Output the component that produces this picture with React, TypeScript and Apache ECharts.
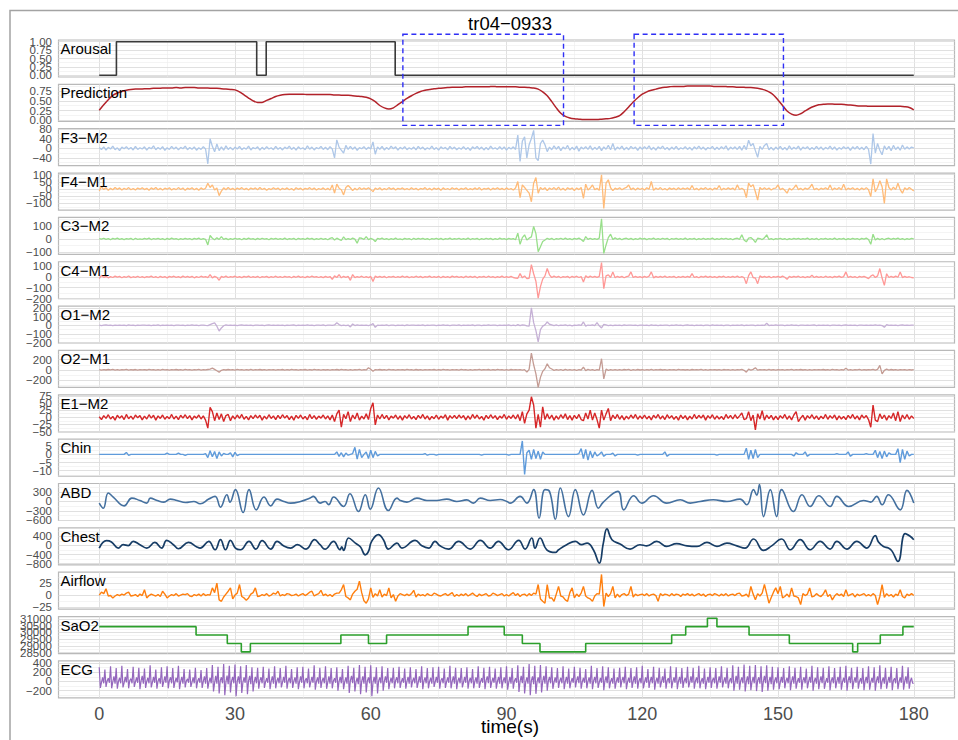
import React, { useEffect, useRef } from "react";
import * as echarts from "echarts";

// ---------- DATA ----------
const PANEL_NAMES = ["Arousal", "Prediction", "F3−M2", "F4−M1", "C3−M2", "C4−M1", "O1−M2", "O2−M1", "E1−M2", "Chin", "ABD", "Chest", "Airflow", "SaO2", "ECG"];
const X_TICKS = [0, 30, 60, 90, 120, 150, 180];
const X_MINOR = [15, 45, 75, 105, 135, 165];

const Y_MIN = [-0.05, -0.026, -73, -148, -118, -202, -203, -350, -51, -13.3, -605, -848, -29.5, 28436, -359];
const Y_MAX = [1.05, 0.922, 82, 111, 164, 141, 219, 384, 79, 9.3, 570, 765, 47.7, 31164, 448];
const Y_TICKS = [
  [0, 0.25, 0.5, 0.75, 1],
  [0, 0.25, 0.5, 0.75],
  [-40, 0, 40, 80],
  [-100, -50, 0, 50, 100],
  [-100, 0, 100],
  [-200, -100, 0, 100],
  [-200, -100, 0, 100, 200],
  [-200, 0, 200],
  [-50, -25, 0, 25, 50, 75],
  [-10, -5, 0, 5],
  [-600, -300, 0, 300],
  [-800, -400, 0, 400],
  [-25, 0, 25],
  [28500, 29000, 29500, 30000, 30500, 31000],
  [-200, 0, 200, 400],
];

const AROUSAL: [number, number][] = [[0, 0], [3.8, 1], [34.8, 0], [36.9, 1], [65.4, 0], [180, 0]];

const PREDICTION = [
  0.26, 0.40, 0.53, 0.64, 0.70, 0.74, 0.77, 0.79, 0.80, 0.80,
  0.81, 0.81, 0.82, 0.82, 0.83, 0.83, 0.83, 0.84, 0.83, 0.84,
  0.84, 0.84, 0.83, 0.83, 0.83, 0.82, 0.82, 0.81, 0.80, 0.79,
  0.78, 0.73, 0.65, 0.57, 0.50, 0.46, 0.46, 0.51, 0.56, 0.61,
  0.64, 0.66, 0.67, 0.67, 0.67, 0.67, 0.66, 0.66, 0.66, 0.66,
  0.66, 0.66, 0.65, 0.65, 0.64, 0.64, 0.63, 0.62, 0.61, 0.59,
  0.55, 0.48, 0.38, 0.32, 0.29, 0.32, 0.40, 0.48, 0.56, 0.63,
  0.69, 0.74, 0.77, 0.79, 0.81, 0.82, 0.83, 0.84, 0.85, 0.85,
  0.85, 0.86, 0.86, 0.86, 0.86, 0.86, 0.86, 0.87, 0.86, 0.86,
  0.86, 0.86, 0.86, 0.85, 0.85, 0.84, 0.83, 0.80, 0.73, 0.63,
  0.48, 0.32, 0.18, 0.10, 0.06, 0.04, 0.03, 0.02, 0.02, 0.02,
  0.02, 0.03, 0.04, 0.05, 0.08, 0.12, 0.22, 0.34, 0.47, 0.58,
  0.67, 0.73, 0.77, 0.80, 0.83, 0.85, 0.86, 0.87, 0.87, 0.87,
  0.88, 0.88, 0.88, 0.88, 0.88, 0.88, 0.87, 0.87, 0.87, 0.86,
  0.86, 0.85, 0.85, 0.84, 0.84, 0.83, 0.81, 0.78, 0.73, 0.65,
  0.52, 0.38, 0.24, 0.16, 0.13, 0.17, 0.24, 0.31, 0.36, 0.40,
  0.41, 0.42, 0.42, 0.41, 0.41, 0.40, 0.39, 0.38, 0.37, 0.37,
  0.36, 0.36, 0.36, 0.36, 0.36, 0.36, 0.36, 0.36, 0.35, 0.33,
  0.27,
];

// rows of 10 s, one value every 0.5 s
const F3M2 = [
  [3, -5, 6, -8, 4, -3, 9, -6, 2, -10, 5, -2, 7, -4, 3, -7, 8, -5, 2, -3],
  [6, -8, 4, -2, 10, -6, 3, -4, 7, -9, 2, -5, 8, -3, 5, -7, 4, -2, 9, -6],
  [3, -4, 6, -8, 2, -5, 7, -3, -65, 40, 8, -15, 18, -10, 6, -8, 10, -5, 4, -7],
  [5, -3, 8, -6, 2, -4, 9, -7, 3, -2, 6, -8, 4, -5, 7, -3, 2, -6, 8, -4],
  [3, -7, 5, -2, 9, -5, 4, -8, 6, -3, 2, -6, 10, -4, 5, -7, 3, -2, 8, -5],
  [4, -6, 7, -3, -40, 35, 5, -8, -20, 12, -5, 8, -4, 6, -9, 3, -2, 7, -5, 4],
  [-3, 27, -25, 6, -4, 8, -7, 3, -5, 9, -2, 6, -8, 4, -3, 7, -6, 2, -4, 5],
  [-7, 8, -3, 5, -6, 2, -4, 9, -5, 3, -8, 6, -2, 4, -7, 8, -3, 5, -6, 2],
  [-4, 7, -5, 3, -9, 6, -2, 8, -4, 5, -7, 3, -6, 9, -3, 2, -5, 7, -4, 6],
  [-8, 4, -3, 6, -5, 55, -55, 30, 48, -40, 15, 41, 75, -40, -52, 20, 34, 15, -14, 5],
  [-6, 10, -4, 8, -10, 5, -3, 12, -8, 4, -6, 9, -12, 5, -3, 7, -5, 10, -7, 4],
  [-5, 8, -10, 6, -4, 12, -6, 20, -8, 5, -3, 9, -7, 4, -6, 8, -2, 5, -9, 6],
  [-4, 7, -3, 10, -6, 4, -8, 6, -2, 9, -5, 3, -7, 5, -4, 8, -6, 2, -3, 7],
  [-5, 4, -8, 6, -3, 9, -4, 5, -7, 3, -2, 8, -6, 4, -5, 7, -3, 10, -8, 5],
  [-3, 6, -5, 8, -8, 12, -6, 34, 10, 20, -10, -38, 8, -5, 12, 20, -6, 4, -8, 5],
  [-4, 8, -6, 3, -7, 10, -5, 4, -3, 9, -8, 5, -2, 7, -6, 3, -5, 8, -4, 6],
  [-7, 4, -3, 9, -5, 6, -8, 3, -4, 7, -2, 5, -9, 6, -3, 8, -5, 4, -6, 8],
  [-5, -66, 62, -20, 20, -8, -27, 10, -6, 8, -10, 12, -5, 6, -8, 14, -4, 6, -3, 5],
  [2],
];

const F4M1 = [
  [-14, 16, -5, 8, -10, 4, -6, 10, -3, 7, -8, 5, -4, 9, -6, 3, -7, 6, -2, 8],
  [-5, 4, -9, 7, -3, 10, -6, 4, -8, 5, -2, 8, -7, 3, -5, 9, -4, 6, -10, 5],
  [-3, 8, -6, 4, -9, 7, -4, 5, 40, 10, 28, -8, 6, -47, -15, 8, -6, 10, -5, 4],
  [-7, 6, -3, 9, -5, 4, -8, 6, -2, 7, -6, 10, -4, 5, -9, 3, -5, 8, -3, 6],
  [-8, 5, -4, 7, -6, 3, -9, 8, -3, 5, -7, 4, -2, 9, -5, 6, -8, 3, -4, 7],
  [-6, 4, -8, 28, -30, 33, 5, -6, -42, 10, 24, 8, -12, 5, -7, 9, -4, 6, -3, 8],
  [-5, -19, 6, -4, 8, -7, 3, -5, 9, -3, 6, -8, 4, -2, 7, -5, 3, -6, 8, -4],
  [5, -7, 3, -2, 9, -6, 4, -8, 6, -3, 5, -9, 7, -4, 3, -6, 8, -2, 5, -7],
  [4, -3, 8, -6, 2, -5, 7, -4, 9, -8, 3, -2, 6, -7, 5, -3, 8, -5, 4, -6],
  [7, -4, 3, -8, 6, 52, -61, 28, 10, -10, -30, -90, 40, 80, -30, 10, -5, 8, -12, 6],
  [-4, 9, -6, 12, -8, 5, -10, 8, -3, 6, -12, 7, -5, 10, -66, 33, -8, 6, 28, -5],
  [4, -10, 99, -137, 40, 64, 8, -12, 5, -3, 8, -6, 4, 10, 28, -5, 7, -8, 6, -4],
  [5, -7, 8, -3, 52, -10, 6, -4, 9, -6, 3, -8, 7, -3, 5, -6, 8, -4, 6, -2],
  [7, -5, 24, -6, 4, -8, 6, -3, 9, -5, 4, -7, 6, -2, 24, -8, 5, -4, 7, -3],
  [6, -8, 28, -4, 5, -6, -61, 40, 15, 30, -20, -78, 10, -5, 8, -4, 6, -8, 3, 5],
  [28, -6, 4, -10, -30, 5, -8, 7, 28, -5, 4, -8, 6, -3, 9, 33, -6, 4, -7, 5],
  [-3, 8, -5, 28, -8, 6, -4, 9, -6, 33, -7, 5, -3, 8, -6, 4, -8, 6, -5, 9],
  [-6, -54, 70, -20, 10, 57, 15, -101, 70, 10, -8, 12, -5, 40, -5, -30, 8, -6, 10, -3],
  [-14],
];

const C3M2 = [
  [3, -2, 5, -4, 2, -6, 4, -1, 6, -3, 2, -5, 3, -2, 4, -6, 5, -3, 1, -4],
  [4, -2, 6, -5, 3, -1, 5, -4, 2, -6, 4, -3, 6, -2, 3, -5, 2, -4, 5, -1],
  [3, -5, 4, -2, 6, -4, 2, -3, -46, 26, 5, -6, 8, -4, 18, -3, 4, -5, 2, -3],
  [5, -2, 3, -6, 4, -3, 6, -1, 2, -5, 4, -3, 5, -2, 3, -6, 4, -1, 5, -4],
  [2, -3, 6, -5, 3, -2, 4, -6, 5, -1, 3, -4, 6, -2, 4, -5, 2, -3, 5, -4],
  [3, -6, 4, 10, -8, 6, -3, -12, 15, -5, 3, -4, 6, -2, -33, 8, 5, -4, 18, -6],
  [4, -3, -20, 5, -2, 6, -4, 3, -5, 2, -3, 6, -4, 1, -5, 4, -2, 3, -6, 5],
  [-3, 4, -1, 5, -4, 2, -6, 3, -2, 5, -3, 4, -5, 2, -1, 6, -4, 3, -2, 5],
  [-4, 2, -3, 6, -5, 3, -1, 4, -6, 2, -3, 5, -2, 4, -5, 3, -4, 6, -2, 3],
  [-5, 4, -2, 3, -6, 44, -41, 10, 31, -8, 6, 15, 95, 40, -97, -59, -20, -8, 5, -3],
  [4, -6, 3, -2, 5, -4, 6, -3, 2, -5, 4, -2, 6, -5, -20, 18, -3, 5, -4, 2],
  [-3, 6, 154, -110, -46, 10, 36, -5, 8, -3, 4, -6, 2, 5, -3, 4, -5, 2, -4, 6],
  [-2, 4, -5, 3, -1, 6, -4, 2, -3, 5, -2, 4, -6, 3, -1, 5, -4, 2, -3, 6],
  [-5, 3, -2, 4, -6, 2, -3, 5, -4, 3, -1, 6, -5, 2, -3, 4, -2, 5, -4, 3],
  [-6, 2, 5, -3, 31, -8, -22, 6, 10, -4, -26, 5, 3, -5, 8, 31, -4, 2, -5, 3],
  [-2, 5, -4, 3, -6, 2, -3, 4, -1, 5, -4, 3, -2, 6, -5, 2, -3, 4, -6, 3],
  [-1, 5, -4, 2, -3, 6, -5, 3, -2, 4, -6, 2, -4, 5, -1, 3, -5, 4, -2, 6],
  [-4, -41, 36, -8, 4, -5, 3, -6, 2, 5, -3, 4, -2, 6, -4, 3, -5, 2, -3, 4],
  [1],
];

const C4M1 = [
  [-15, 15, -4, 6, -8, 3, -5, 8, -2, 5, -7, 4, -3, 9, -6, 2, -4, 7, -5, 3],
  [-6, 4, -2, 8, -5, 3, -7, 6, -3, 4, -8, 5, -2, 7, -4, 3, -6, 8, -3, 5],
  [-4, 6, -8, 3, -5, 7, -2, 4, -6, 22, -8, 5, -4, -31, 6, -3, 8, -5, 4, -2],
  [7, -4, 3, -6, 5, -2, 8, -5, 4, -3, 6, -7, 3, -2, 5, -6, 4, -3, 7, -4],
  [3, -5, 6, -2, 4, -7, 5, -3, 8, -4, 2, -6, 5, -3, 7, -2, 4, -5, 3, -6],
  [6, -3, 4, -22, 10, -5, 22, -8, 6, -4, 5, -31, 22, -6, 4, -3, 7, -5, 3, -6],
  [5, -41, 8, -4, 6, -3, 5, -7, 4, -2, 6, -5, 3, -4, 8, -3, 5, -6, 2, -4],
  [7, -3, 5, -6, 4, -2, 8, -5, 3, -4, 6, -7, 5, -3, 4, -6, 8, -2, 5, -4],
  [3, -6, 7, -3, 5, -4, 6, -8, 4, -2, 5, -5, 7, -3, 4, -6, 3, -4, 8, -5],
  [4, -3, 6, -5, -10, -12, 31, -8, 10, -15, -12, 115, 30, -40, -197, -90, -20, 10, 78, 20],
  [-5, 8, -3, 6, -7, 4, -2, 5, -8, 6, -3, 7, -5, 4, -47, 12, -6, 8, -3, 5],
  [-4, 6, 134, -109, 10, 20, -5, 47, -8, 6, -4, 5, -7, 3, 8, 47, -5, 6, -3, 4],
  [-6, 5, -3, 7, 47, -8, 5, -4, 6, -3, 8, -5, 4, -2, 6, -7, 3, -4, 5, -3],
  [6, -4, 31, -5, 3, -7, 5, -2, 8, -4, 6, -3, 4, -6, 5, -2, 7, -5, 3, -4],
  [6, -3, 8, -5, 4, -6, -62, 12, 47, -5, -10, -62, 10, -4, 6, -3, 5, -7, 4, -2],
  [6, -4, 8, -3, -22, 5, -4, 6, -2, 7, -5, 3, -6, 4, -3, 15, -5, 6, -4, 3],
  [-5, 7, -3, 4, -6, 5, -2, 8, -4, 3, 47, -5, 6, -3, 4, -7, 5, -2, 6, -4],
  [-15, 8, 20, -5, 10, 78, -10, -78, 30, -5, 6, -4, 8, -3, 47, -6, 5, -4, 2, -5],
  [-8],
];

const O1M2 = [
  [2, -3, 1, 4, -2, 3, -4, 1, -1, 3, -2, 2, -3, 4, -1, 2, -4, 3, -2, 1],
  [3, -1, 2, -4, 1, -2, 4, -3, 2, -1, 3, -2, 1, -4, 2, 3, -1, 2, -3, 1],
  [-2, 4, -1, 2, -3, 1, 3, -2, -4, 8, 19, 27, -10, -65, -30, -5, 4, -2, 3, -1],
  [2, -3, 1, 4, -2, 3, -1, 2, -4, 1, 3, -2, 2, -3, 1, 4, -1, 2, -2, 3],
  [-1, 2, -4, 3, -2, 1, 4, -3, 2, -1, 3, -2, 4, -1, 2, -3, 1, 3, -2, 4],
  [-3, 1, 2, -2, 4, 30, 8, -3, 2, -4, 3, -19, 15, -3, 4, -2, 3, -1, 2, -3],
  [4, 19, -23, 2, -1, 3, -2, 4, -3, 1, 2, -4, 3, -1, 2, -3, 4, -2, 1, 3],
  [-2, 3, -1, 4, -3, 2, -2, 1, 3, -4, 2, -1, 4, -2, 3, -3, 1, 2, -1, 4],
  [-3, 2, -1, 3, -2, 4, -4, 1, 2, -3, 3, -1, 4, -2, 1, 3, -4, 2, -1, 3],
  [-2, 4, -3, 1, -5, 8, -4, 6, 3, -6, -10, 198, 30, -60, -190, -50, -10, 5, 38, 12],
  [6, -3, 4, -5, 3, -2, 5, -4, 2, -6, 3, -2, 4, -1, 38, -10, 3, -2, 6, -4],
  [30, -6, -30, 10, 4, -3, 2, -4, 3, -1, 2, -3, 4, -2, 1, 3, -2, 2, -4, 1],
  [3, -2, 1, -3, 4, -1, 2, -4, 3, -2, 1, 3, -3, 2, -1, 4, -2, 1, -3, 2],
  [4, -1, 2, -3, 1, -2, 3, -4, 2, 1, -3, 4, -1, 2, -2, 3, -4, 1, 2, -3],
  [1, -2, 3, -1, 4, -3, 2, -2, 1, 3, -4, 2, -1, 3, -2, 23, -3, 2, -1, 4],
  [-2, 1, 3, -3, 2, -1, 4, -2, 1, -4, 3, 2, -1, 3, -2, 1, 4, -3, 2, -1],
  [3, -2, 1, -4, 2, 3, -1, 2, -3, 1, 4, -2, 3, -1, 2, -4, 1, 3, -2, 2],
  [-1, 3, -2, 4, -1, 2, -3, -23, 8, -2, 3, -1, 2, -3, 1, 4, -2, 3, -1, 2],
  [1],
];

const O2M1 = [
  [5, -8, 3, -4, 6, -2, 8, -5, 3, -6, 4, -3, 7, -5, 2, -4, 6, -7, 3, -2],
  [5, -4, 8, -3, 2, -6, 4, -5, 7, -2, 3, -8, 5, -3, 6, -4, 2, -5, 8, -3],
  [4, -6, 3, -2, 7, -5, 4, -3, 6, 15, 33, 8, -20, -47, -10, 5, -4, 6, -3, 2],
  [-5, 7, -3, 4, -6, 2, -4, 8, -5, 3, -2, 6, -4, 5, -7, 3, -2, 4, -6, 5],
  [-3, 6, -5, 2, -4, 7, -3, 5, -8, 4, -2, 6, -5, 3, -4, 8, -3, 2, -6, 5],
  [-4, 3, -7, 5, -2, 6, -4, 8, -3, 2, -5, 4, -6, 3, -2, 7, -5, 4, -3, 40],
  [10, -27, 5, -3, 6, -4, 2, -5, 7, -3, 4, -6, 3, -2, 5, -4, 8, -3, 2, -5],
  [6, -4, 3, -7, 5, -2, 4, -3, 6, -5, 2, -4, 7, -3, 5, -6, 3, -2, 4, -5],
  [7, -3, 2, -5, 4, -6, 3, -2, 8, -4, 5, -3, 6, -5, 2, -4, 7, -3, 4, -6],
  [3, -5, 6, -2, 4, -3, 5, -6, 3, -47, 10, 333, 100, -80, -347, -150, -30, 20, 120, 40],
  [15, -10, 5, -8, 6, -12, 8, -5, 4, -6, 3, -10, 5, -4, 53, -15, 8, -6, 4, -10],
  [5, -8, 220, -180, 15, -10, 5, -6, 3, -8, 4, -5, 6, -3, 8, -10, 3, -5, 6, -4],
  [5, -6, 3, -4, 7, -5, 2, -3, 6, -4, 5, -7, 3, -2, 4, -6, 8, -3, 5, -4],
  [3, -5, 6, -3, 4, -2, 7, -5, 3, -6, 4, -3, 5, -4, 2, -7, 6, -3, 4, -5],
  [2, -6, 5, -3, 8, -10, -47, 12, -5, 8, 40, -6, 5, -3, 4, -5, 7, -4, 3, -6],
  [5, -3, 4, -6, 3, -2, 7, -5, 4, -3, 6, -4, 2, -5, 3, -7, 5, -2, 4, -3],
  [6, -4, 3, -5, 8, -3, 4, -6, 2, -4, 30, -5, 3, -6, 4, -2, 7, -5, 3, -4],
  [5, -3, 8, -6, 10, 87, -80, -10, 12, -5, 6, -4, 3, -7, 5, -3, 4, -6, 2, -4],
  [3],
];

const E1M2 = [
  [2, -8, 6, -4, 9, -6, 3, -10, 7, -3, 5, -8, 10, -5, 4, -7, 8, -2, 6, -9],
  [4, -6, 9, -3, 7, -10, 5, -4, 8, -7, 3, -5, 10, -6, 4, -8, 7, -3, 9, -5],
  [6, -9, 4, -3, 8, -6, 5, -10, -38, 35, 20, -12, 15, -8, 12, -15, 6, 10, -12, 5],
  [-6, 8, -4, 10, -7, 3, -9, 6, -5, 8, -3, 7, -10, 4, -6, 9, -4, 5, -8, 7],
  [-5, 9, -3, 6, -8, 4, -10, 7, -4, 8, -6, 3, -9, 10, -5, 6, -7, 4, -3, 8],
  [-6, 5, -9, 8, -15, 12, 25, -35, 10, -5, 20, -15, 8, -6, 15, -10, 4, -6, 12, -8],
  [31, 51, -27, 8, -6, 10, -5, 7, -9, 4, -3, 8, -7, 5, -10, 6, -4, 9, -6, 3],
  [-8, 7, -4, 10, -6, 5, -9, 3, -5, 8, -7, 4, -3, 9, -10, 6, -4, 7, -5, 8],
  [-3, 6, -9, 5, -7, 10, -4, 8, -6, 3, -10, 7, -5, 9, -4, 6, -8, 4, -3, 10],
  [-7, 5, -4, 8, -6, 10, -12, 20, -21, 12, 25, 72, 43, -38, 10, -35, 37, -8, 12, -6],
  [8, -10, 5, -7, 9, -4, 12, -8, 6, -10, 7, -5, 10, -8, -12, 15, -6, 25, -10, 15],
  [-8, -38, 25, -10, 12, 31, -12, 8, -5, 10, -7, 6, -9, 4, -6, 8, -4, 10, -7, 5],
  [-5, 8, -6, 4, -9, 7, -3, 10, -6, 5, -8, 9, -4, 6, -7, 3, -10, 8, -5, 6],
  [-9, 4, -6, 10, -5, 7, -3, 8, -10, 6, -4, 9, -7, 5, -6, 3, -8, 10, -4, 7],
  [-6, 9, -4, 5, 15, -8, -5, 20, -12, 8, -44, 12, -6, 23, -10, 8, -5, 7, -9, 4],
  [-8, 6, -4, 10, -7, 5, -9, 8, 20, -15, -3, 7, -10, 6, -4, 9, -6, 5, -8, 4],
  [-5, 10, -7, 6, -4, 8, -9, 5, -6, 3, -8, 7, -4, 10, -6, 5, -9, 8, -3, 6],
  [-8, -35, 43, -10, -15, 12, -5, 8, -10, 6, -4, 15, -12, 20, -15, 8, -6, 10, -7, 5],
  [-4],
];

const CHIN = [
  [0, 0, 0, 0, 0, 0, 0, 0, 0, 0, 0, 0, 1.2, -0.6, 0, 0, 0, 0, 0, 0],
  [0, 0, 0, 0, 0, 0, 0, 0, 0, 0, 0.8, 0, 0, 0, 0, 0.8, 0, 0, -0.6, 0],
  [0, 0, 0, 0, 0, 0, 0, 0.5, -2, 2.2, -1.5, 1.8, -2.5, 1.5, -1, 0.6, 0, 0, 1, -1.5],
  [1.2, -0.8, 0, 0, 0, 0, 0, 0, 0, 0, 0, 0, 0, 0, 0, 0, 0, 0, 0, 0],
  [0, 0, 0, 0, 0, 0, 0, 0, 0, 0, 0, 0, 0, 0, 0, 0, 0, 0, 0, 0],
  [0, 0, 0, 0, 0, 1.5, -1.2, 1, -1.5, 0.8, -0.5, 0, 0.5, 4.3, -2.9, 3, -2, 0, 1.5, -2.5],
  [2.5, -2, 1.8, -1, 0, 0, 0, 0, 0, 0, 0, 0, 0, 0, 0, 0, 0, 0, 0, 0],
  [0, 0, 0, 0, 0.5, -0.5, 0, 0, 0, -0.5, 0, 0, 0, 0, 0, 0, 0, 0, 0, 0],
  [0, 0, 0, 0, 0, 0, 0, 0, 0, -0.5, 0, 0, 0, 0, 0, 0, 0, 0, 0, 0],
  [0, -0.5, 0, 0, 0, 0, 0, 8.2, -12.3, 1, 2.5, -3, 3, -2.5, 2, -3, 1.5, 0, 0, 0],
  [0, 0, 0, 0, 0, 0, 0, 0, 0, 0, 0, 0, 0.5, 3.5, -2.5, 3, -3.5, 2, -2, 1.5],
  [-1, 0, 1.5, -1.2, 0, 0, 0, 0.8, -1, 0, 0, 0, 0, 0, 0, 0, 0, 0, -0.5, 0],
  [0, 0, 0, 0, 0, 0, 0, 0, 0, 0, 1.5, -1.2, 0, 0, 0, 0, 0, 0, 0, 0],
  [0, 0, 0, 0, 0, 0, 0, 0, 0, 0, 0, 0, 0, -0.5, 0, 0, 0, 0, 0, 0],
  [0, 0, 0, 0, 0, 0, 3.8, -3, 2.5, -2.5, 3, -2, 0, 0, 0, 0, 0, 0, 0, 0],
  [0, 0, 0, 0, 0, 0, 0, -1, 1, 0, 0, 0, 1.5, -1.2, 0, 0, 0, 0, 0, 0],
  [0, 0, 0, 0, 0, 0, 0.5, 0, 0, 0, 0, 1.5, -1.2, 0, 0, 0, 0, 0, 0, 0.5],
  [0, 0, 0, 2.5, -2, 1.8, -2.5, 2, -1.5, 1, 0, 0, 0, 3.5, -5, 3, -3, 2, -1, 0],
  [0],
];

// breathing traces: [time, value] at peaks and troughs
const ABD: [number, number][] = [
  [0, -53], [0.9, -214], [2, 267], [3.1, 139], [5.5, -139], [7.2, 107], [9, 30], [10.5, -53], [11.3, 107], [12.8, 30],
  [14.3, -20], [15.7, 75], [17.2, 30], [19.1, -32], [20.9, 0], [22.3, -75], [24.2, 75], [25.6, 160], [26.8, -182], [28.2, 214],
  [28.9, -20], [30.1, 374], [31.8, -353], [33.1, 374], [34.7, -267], [36.4, 139], [37.9, -139], [39.3, 75], [40.8, 0], [42.3, -53],
  [44.5, 0], [46.6, 107], [47.3, 160], [48.8, -53], [49.9, 0], [50.7, -100], [51.8, 139], [54, -160], [55.4, 246], [57.3, -321],
  [58.8, 214], [59.9, -246], [61.7, 428], [63.9, -289], [65.8, 107], [66.5, 30], [68, -20], [70.2, 107], [72.4, 30], [74.6, 30],
  [76.8, 75], [79, 0], [81.2, 50], [82.7, -53], [84.2, 107], [86.4, 30], [88.6, 60], [90.1, 0], [90.8, -53], [93, 160],
  [94.5, -53], [96, 374], [97.2, -535], [98.5, 374], [99.5, 321], [100.8, -567], [101.9, 428], [103.7, -482], [105.2, 374], [107, -428],
  [108.9, 353], [110.3, -214], [111.4, -20], [114.6, 321], [115.9, -267], [118.1, 182], [119.9, -53], [122.5, 182], [125.4, -53], [128.4, 53],
  [130.6, -53], [132.8, 0], [135.7, 53], [138.7, 0], [141.6, 75], [143.1, -107], [144.6, 374], [145.3, 200], [145.9, 535], [146.8, -482],
  [148.3, 374], [149.7, -482], [150.8, 374], [153.4, -321], [155.3, 214], [157.1, -160], [159, 182], [161.5, -160], [163, 160], [165.6, -160],
  [168.9, 30], [170.5, -20], [171.8, 160], [173, -107], [174.4, 214], [177, -267], [178.5, 353], [180, -53],
];

const CHEST: [number, number][] = [
  [0, -117], [1.6, 205], [2.7, 150], [4.2, -117], [5.3, 30], [6.4, -10], [7.5, 176], [9, 30], [10.5, -117], [12.3, 132],
  [13.8, -117], [14.9, 220], [16.4, 30], [17.5, -146], [19.7, 132], [21.6, -70], [22.3, -117], [24.2, 176], [25.6, -190], [26.8, 249],
  [27.9, -190], [29, 220], [30.1, -117], [31.2, -190], [33.1, 176], [34.6, -161], [36, 205], [37.9, -161], [39.3, 176], [40.8, -30],
  [42.3, -117], [43.8, 30], [45.7, -161], [47.6, 249], [48.8, 30], [49.9, -161], [51.8, 176], [53.2, -190], [53.6, -60], [54, -220],
  [55.1, 322], [56.6, 100], [57.7, -60], [58.8, -410], [59.5, -264], [60.2, 176], [61.7, 469], [62.8, 250], [63.9, -161], [65.8, 103],
  [66.9, -117], [69.8, 220], [71.3, -20], [72.8, -117], [74.2, 176], [75.3, -20], [77.2, -161], [79.4, 176], [82, -161], [84.2, 220],
  [86.4, -117], [88.2, 176], [90.4, -190], [92.7, 220], [94.1, -161], [95.6, 322], [96.3, -117], [97.4, 322], [98.9, -190], [100.8, -308],
  [101.5, -190], [103.3, 30], [105.2, 176], [106.6, 30], [107.8, 100], [109.2, -190], [110.5, -776], [111.4, 100], [112.2, 718], [113.3, 249],
  [115.1, 60], [117.3, -161], [119.5, 29], [121, -20], [123.2, 176], [125.4, -40], [127.6, 73], [129.9, -20], [132.1, -44], [134.3, 132],
  [136.5, -40], [138.7, 103], [140.9, -20], [142.7, -117], [144.6, 278], [146.8, -220], [148.6, -20], [150.8, 278], [152.7, -190], [154.9, 249],
  [157.1, -190], [159.3, 176], [161.5, -161], [163, 176], [165.2, -161], [167.4, 176], [169.6, -117], [171.5, 425], [172.2, 150], [173.3, -44],
  [174.4, -117], [175.2, -250], [176.5, -703], [178.1, 513], [179.2, 396], [180, 249],
];

const AIRFLOW = [
  [0, 6, 3, 13, -2, -1, -6, -2, 1, -1, 2, 0, 4, 6, -2, -1, 1, -3, 2, -1],
  [11, -6, -1, 2, 0, -2, 1, -3, 8, 2, -6, -2, 1, -1, 3, -2, 0, 2, 1, 3],
  [-2, -3, 1, -1, 2, -2, 3, -1, 1, 0, 15, 5, 25, -10, -13, -4, 2, 8, 15, -8],
  [0, 4, 22, -3, -6, -11, -6, 2, 5, 15, -3, -2, 1, -1, 3, -2, 0, 4, 2, 8],
  [-2, 1, -1, 3, 2, -1, 0, 2, -2, 1, 3, -1, 2, 6, 8, -2, 1, 3, 10, -1],
  [2, -2, 1, -3, 2, 4, 4, 11, 22, -3, -6, -10, 2, 8, 12, 29, 5, -12, -17, -8],
  [15, -5, 3, -2, 11, -4, 2, -1, 15, -6, 1, -13, -2, 3, 1, -1, 2, -1, 3, 10],
  [-4, 2, -1, 1, -2, 3, 0, -1, 4, 2, -1, -2, 1, 3, -1, 2, 5, -3, 1, -2],
  [2, -1, 3, -2, 1, 4, 0, -3, 2, -1, 1, 3, -2, -1, 4, 2, -1, 1, 3, -2],
  [1, -2, 2, 5, -1, 3, -3, 1, 2, -2, 3, -1, 4, 2, 22, -8, -13, -17, 22, -6],
  [-6, -13, 2, 18, -2, -4, -10, -13, 5, 15, -6, 2, -3, 4, 18, -2, -6, -8, -13, -2],
  [3, 2, 43, -24, 4, -3, 3, 18, -6, 2, -4, 1, 3, -1, 2, 18, -4, 2, -1, 1],
  [2, -1, 3, -2, 1, 2, -1, -13, 3, -1, 2, 1, -2, 3, -1, 2, 1, -3, 2, 0],
  [3, -1, 2, -2, 1, 3, -1, 2, -3, 1, 2, -1, 3, 1, -2, 2, -1, 3, -2, 1],
  [2, -1, 3, 4, -2, -1, 2, -4, 18, 2, -10, 3, -2, 4, 22, 3, -17, -5, 6, 15],
  [3, 18, -6, -3, 2, -4, 15, -2, -3, -6, -20, 3, -1, 2, 15, -4, -2, 3, -1, -3],
  [2, 11, -3, 1, -10, -2, 3, -1, 2, -3, 11, -2, 1, 3, -4, 2, -1, 1, 3, -2],
  [1, -2, 3, -1, -20, -3, 22, -5, 3, -2, 1, -4, 2, -1, 11, -3, -6, 2, -1, 3],
  [-1],
];

const SAO2: [number, number][] = [
  [0, 30420], [21.4, 29800], [28.3, 29180], [31.4, 28560], [33.4, 29180], [53.4, 29800], [59.5, 29180], [63.5, 29800],
  [81.5, 30420], [89.5, 29800], [93.5, 29180], [97.4, 28560], [107.5, 29180], [126.5, 29800], [129.6, 30420], [134.4, 31040],
  [136.5, 30420], [143.6, 29800], [152.5, 29180], [166.5, 28560], [167.6, 29180], [172.6, 29800], [177.6, 30420], [180, 30420],
];

// rows of 5 s, one value every 0.25 s
const ECG = [
  [310, -140, -20, 90, -40, 260, -120, 10, 70, -30, 330, -150, -10, 110, -50, 290, -160, 0, 80, -40],
  [340, -130, -30, 100, -20, 270, -150, 20, 60, -40, 320, -120, -10, 90, -30, 300, -170, 10, 120, -50],
  [280, -140, 0, 80, -40, 350, -130, -20, 100, -30, 260, -160, 10, 70, -50, 310, -120, -10, 110, -30],
  [330, -150, 20, 90, -40, 290, -140, -10, 80, -20, 340, -170, 0, 100, -50, 270, -130, 10, 60, -30],
  [260, -120, -20, 90, -40, 300, -150, 10, 70, -30, 250, -140, 0, 110, -50, 290, -160, -10, 80, -40],
  [360, -220, -30, 120, -50, 320, -260, 20, 90, -40, 380, -300, -10, 130, -60, 340, -240, 10, 100, -40],
  [370, -320, 0, 110, -50, 330, -250, -20, 90, -30, 360, -280, 10, 120, -60, 310, -220, -10, 100, -40],
  [300, -160, 20, 90, -40, 320, -140, -10, 70, -30, 280, -170, 0, 110, -50, 330, -150, 10, 80, -40],
  [290, -130, -20, 100, -30, 340, -160, 10, 80, -40, 270, -140, 0, 90, -50, 310, -170, -10, 110, -30],
  [320, -150, 20, 70, -40, 280, -130, -10, 100, -30, 350, -180, 0, 90, -50, 300, -140, 10, 80, -40],
  [330, -160, -20, 110, -50, 290, -150, 10, 70, -30, 310, -200, 0, 100, -40, 270, -170, -10, 90, -50],
  [340, -250, 20, 120, -40, 300, -220, -10, 80, -60, 360, -280, 0, 110, -50, 320, -240, 10, 90, -40],
  [350, -320, -20, 100, -50, 310, -260, 10, 90, -40, 330, -200, 0, 110, -30, 290, -170, -10, 80, -40],
  [300, -150, 20, 90, -40, 320, -140, -10, 70, -30, 280, -160, 0, 100, -50, 310, -130, 10, 80, -40],
  [270, -140, -20, 110, -30, 330, -170, 10, 90, -40, 290, -150, 0, 80, -50, 310, -120, -10, 100, -30],
  [320, -160, 20, 70, -40, 280, -140, -10, 90, -30, 340, -150, 0, 110, -50, 300, -170, 10, 80, -40],
  [290, -130, -20, 100, -30, 310, -160, 10, 80, -40, 270, -150, 0, 90, -50, 330, -140, -10, 70, -30],
  [300, -170, 20, 110, -40, 320, -140, -10, 80, -30, 280, -160, 0, 100, -50, 310, -150, 10, 90, -40],
  [330, -180, -20, 100, -50, 290, -160, 10, 70, -30, 350, -230, 0, 120, -40, 320, -260, -10, 90, -50],
  [380, -300, 20, 110, -60, 340, -270, -10, 90, -40, 360, -240, 0, 120, -50, 330, -200, 10, 100, -40],
  [310, -160, -20, 90, -30, 290, -140, 10, 80, -40, 330, -170, 0, 100, -50, 280, -150, -10, 70, -30],
  [320, -130, 20, 110, -40, 300, -160, -10, 80, -30, 270, -150, 0, 90, -50, 340, -170, 10, 100, -40],
  [290, -140, -20, 80, -30, 330, -190, 10, 110, -40, 310, -150, 0, 70, -50, 280, -160, -10, 90, -30],
  [300, -130, 20, 100, -40, 320, -170, -10, 80, -30, 290, -140, 0, 110, -50, 310, -160, 10, 70, -40],
  [340, -150, -20, 90, -30, 270, -140, 10, 100, -40, 320, -180, 0, 80, -50, 300, -130, -10, 110, -30],
  [280, -160, 20, 70, -40, 330, -150, -10, 90, -30, 310, -170, 0, 100, -50, 290, -140, 10, 80, -40],
  [320, -130, -20, 110, -30, 300, -160, 10, 90, -40, 340, -150, 0, 70, -50, 280, -170, -10, 100, -30],
  [310, -140, 20, 80, -40, 290, -160, -10, 110, -30, 330, -130, 0, 90, -50, 300, -150, 10, 70, -40],
  [350, -200, -20, 120, -50, 320, -180, 10, 90, -40, 370, -220, 0, 110, -60, 340, -190, -10, 100, -40],
  [360, -210, 20, 90, -50, 330, -230, -10, 120, -40, 350, -200, 0, 100, -60, 320, -180, 10, 90, -40],
  [310, -170, -20, 100, -30, 290, -150, 10, 80, -40, 330, -190, 0, 110, -50, 300, -160, -10, 70, -30],
  [320, -180, 20, 90, -40, 280, -150, -10, 100, -30, 340, -200, 0, 80, -50, 310, -170, 10, 110, -40],
  [300, -160, -20, 70, -30, 330, -190, 10, 90, -40, 290, -150, 0, 100, -50, 320, -180, -10, 80, -30],
  [340, -200, 20, 110, -40, 300, -170, -10, 90, -30, 320, -160, 0, 70, -50, 290, -190, 10, 100, -40],
  [330, -180, -20, 80, -30, 310, -200, 10, 110, -40, 350, -170, 0, 90, -50, 300, -160, -10, 100, -30],
  [320, -190, 20, 70, -40, 290, -170, -10, 90, -30, 340, -180, 0, 110, -50, 310, -160, 10, 80, -40],
  [-40],
];

const BOXES: [number, number][] = [[67.1, 102.6], [118.2, 151.2]];
const BOX_TOP_AROUSAL = 1.22; // in Arousal units
const BOX_BOTTOM_PRED = -0.13; // in Prediction units

// ---------- STYLE / LAYOUT ----------
const COLORS = ["#3a3a3a", "#b2222a", "#aec7e8", "#ffbb78", "#98df8a", "#ff9896", "#c5b0d5", "#c49c94", "#d62728", "#5f9bdb", "#44709f", "#173d66", "#ff7f0e", "#2ca02c", "#9467bd"];
const WIDTHS = [1.6, 1.5, 1.3, 1.3, 1.3, 1.3, 1.3, 1.3, 1.4, 1.4, 1.6, 1.7, 1.4, 1.6, 1.2];
const FONT = '"Liberation Sans", Arial, Helvetica, sans-serif';
const PANEL_LEFT = 58.5;
const PANEL_WIDTH = 896;
const PANEL_TOP0 = 40;
const PANEL_STEP = 44.35;
const PANEL_H = 37;

const fromRows = (rows: number[][], span: number, step: number) =>
  rows.flatMap((r, k) => r.map((v, j) => [k * span + j * step, v]));

function seriesData(i: number): number[][] {
  switch (i) {
    case 0: return AROUSAL;
    case 1: return PREDICTION.map((v, k) => [k, v]);
    case 2: return fromRows(F3M2, 10, 0.5);
    case 3: return fromRows(F4M1, 10, 0.5);
    case 4: return fromRows(C3M2, 10, 0.5);
    case 5: return fromRows(C4M1, 10, 0.5);
    case 6: return fromRows(O1M2, 10, 0.5);
    case 7: return fromRows(O2M1, 10, 0.5);
    case 8: return fromRows(E1M2, 10, 0.5);
    case 9: return fromRows(CHIN, 10, 0.5);
    case 10: return ABD;
    case 11: return CHEST;
    case 12: return fromRows(AIRFLOW, 10, 0.5);
    case 13: return SAO2;
    default: return fromRows(ECG, 5, 0.25);
  }
}

function minorOf(ticks: number[], min: number, max: number) {
  const s = ticks[1] - ticks[0];
  const out: number[] = [];
  for (let v = ticks[0] - s / 2; v <= max + 1e-9; v += s) if (v >= min) out.push(v);
  return out;
}

const fmt = (i: number, v: number) => {
  if (i <= 1) return v.toFixed(2);
  const r = Math.round(v);
  return r < 0 ? "−" + Math.abs(r) : String(r);
};

function buildOption() {
  const n = PANEL_NAMES.length;
  const major = { color: "#dcdcdc", width: 0.9, type: "solid" };
  const minor = { color: "#ededed", width: 0.6, type: "solid" };
  const grids = PANEL_NAMES.map((_, i) => ({
    left: PANEL_LEFT, width: PANEL_WIDTH, top: PANEL_TOP0 + i * PANEL_STEP, height: PANEL_H,
    show: true, backgroundColor: "#ffffff", borderColor: "#b9b9b9", borderWidth: 1.2,
    containLabel: false, outerBoundsMode: "none",
  }));
  const xAxes = PANEL_NAMES.map((_, i) => ({
    type: "value", gridIndex: i, min: -9, max: 189,
    axisLine: { show: false }, axisTick: { show: false }, splitLine: { show: false },
    axisLabel: i === n - 1
      ? { show: true, customValues: X_TICKS, fontSize: 18, color: "#4d4d4d", margin: 7, fontFamily: FONT, hideOverlap: false }
      : { show: false },
  }));
  const yAxes = PANEL_NAMES.map((_, i) => ({
    type: "value", gridIndex: i, min: Y_MIN[i], max: Y_MAX[i],
    axisLine: { show: false }, axisTick: { show: false }, splitLine: { show: false },
    axisLabel: { show: false },
  }));
  const series: any[] = [];
  PANEL_NAMES.forEach((_, i) => {
    const lines = [
      ...X_TICKS.map((v) => ({ xAxis: v, lineStyle: major })),
      ...X_MINOR.map((v) => ({ xAxis: v, lineStyle: minor })),
      ...Y_TICKS[i].map((v) => ({ yAxis: v, lineStyle: major })),
      ...minorOf(Y_TICKS[i], Y_MIN[i], Y_MAX[i]).map((v) => ({ yAxis: v, lineStyle: minor })),
    ];
    series.push({
      type: "line", xAxisIndex: i, yAxisIndex: i, data: [[0, Y_MIN[i]]], silent: true, z: 1,
      showSymbol: false, symbol: "none", lineStyle: { opacity: 0 },
      markLine: { silent: true, z: 1, symbol: ["none", "none"], label: { show: false }, animation: false, data: lines },
    });
    series.push({
      type: "line", name: PANEL_NAMES[i], xAxisIndex: i, yAxisIndex: i, data: seriesData(i), silent: true, z: 10,
      showSymbol: false, symbol: "none", animation: false,
      step: i === 0 || i === 13 ? "end" : false,
      smooth: i === 10 || i === 11 ? 0.45 : i === 1 ? 0.3 : false,
      lineStyle: { color: COLORS[i], width: WIDTHS[i] },
    });
  });
  return { animation: false, backgroundColor: "#ffffff", textStyle: { fontFamily: FONT }, grid: grids, xAxis: xAxes, yAxis: yAxes, series };
}

function buildGraphic(chart: echarts.ECharts) {
  const els: any[] = [];
  els.push({ type: "rect", z: 100, silent: true, shape: { x: 10, y: 10.5, width: 980, height: 760 }, style: { fill: "none", stroke: "#a3a3a3", lineWidth: 1.5 } });
  PANEL_NAMES.forEach((name, i) => {
    els.push({
      type: "text", z: 100, silent: true, x: 60.5, y: PANEL_TOP0 + i * PANEL_STEP + 1,
      style: { text: name, fill: "#000", fontSize: 15, fontFamily: FONT, align: "left", verticalAlign: "top", textAlign: "left", textVerticalAlign: "top" },
    });
    // y tick labels, placed through the panel's own scale
    Y_TICKS[i].forEach((v) => {
      const p = chart.convertToPixel({ gridIndex: i } as any, [0, v]) as number[];
      if (!p) return;
      els.push({
        type: "text", z: 100, silent: true, x: PANEL_LEFT - 6.5, y: p[1],
        style: { text: fmt(i, v), fill: "#4d4d4d", fontSize: 11.5, fontFamily: FONT, align: "right", verticalAlign: "middle", textAlign: "right", textVerticalAlign: "middle" },
      });
    });
  });
  els.push({ type: "text", z: 100, silent: true, x: 510, y: 14, style: { text: "tr04−0933", fill: "#000", fontSize: 18.5, fontFamily: FONT, align: "center", verticalAlign: "top", textAlign: "center", textVerticalAlign: "top" } });
  els.push({ type: "text", z: 100, silent: true, x: 510, y: 717, style: { text: "time(s)", fill: "#000", fontSize: 19, fontFamily: FONT, align: "center", verticalAlign: "top", textAlign: "center", textVerticalAlign: "top" } });
  BOXES.forEach((b) => {
    const p1 = chart.convertToPixel({ gridIndex: 0 } as any, [b[0], BOX_TOP_AROUSAL]) as number[];
    const p2 = chart.convertToPixel({ gridIndex: 1 } as any, [b[1], BOX_BOTTOM_PRED]) as number[];
    if (!p1 || !p2) return;
    els.push({
      type: "rect", z: 100, silent: true,
      shape: { x: p1[0], y: p1[1], width: p2[0] - p1[0], height: p2[1] - p1[1] },
      style: { fill: "none", stroke: "#2f2ff5", lineWidth: 1.4, lineDash: [5, 3.5] },
    });
  });
  return els;
}

export default function App() {
  const ref = useRef<HTMLDivElement>(null);
  useEffect(() => {
    if (!ref.current) return;
    const chart = echarts.init(ref.current, undefined, { renderer: "svg" });
    chart.setOption(buildOption() as any);
    chart.setOption({ graphic: { elements: buildGraphic(chart) } } as any);
    return () => chart.dispose();
  }, []);
  return <div ref={ref} style={{ position: "fixed", left: 0, top: 0, width: 958, height: 740, background: "#fff" }} />;
}
